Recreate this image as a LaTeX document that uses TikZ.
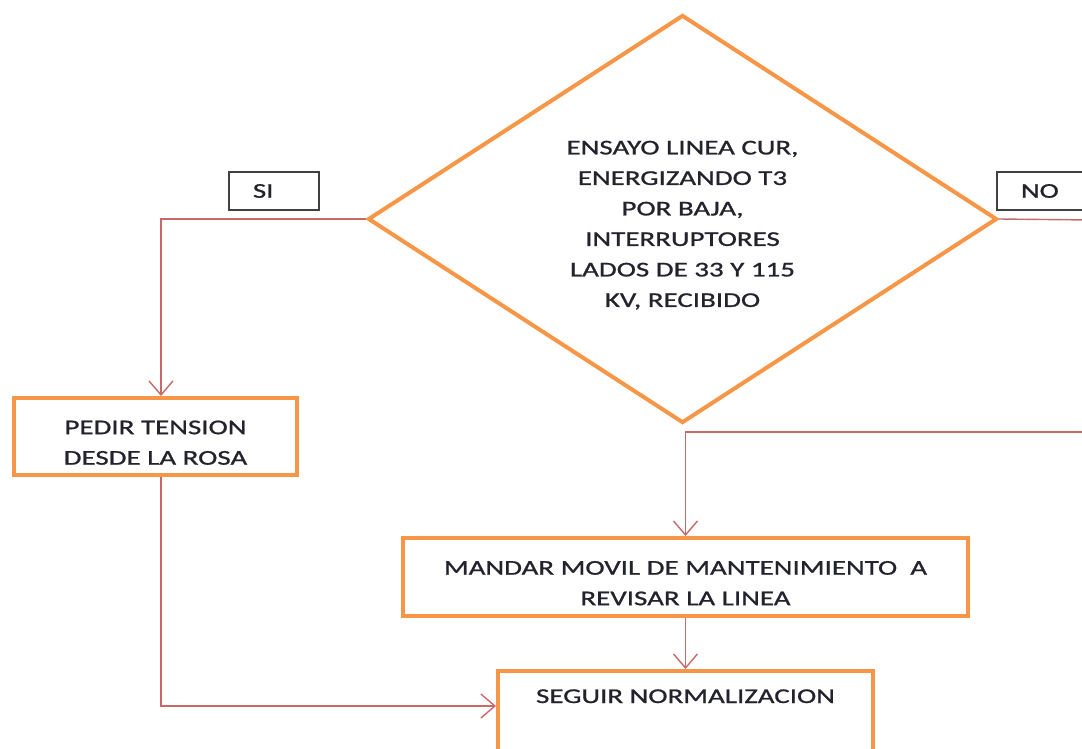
\documentclass[tikz,border=0pt]{standalone}
\usepackage{fontspec}
\setmainfont{Carlito}[FakeStretch=1.38,FakeBold=1]
\usetikzlibrary{arrows.meta,positioning,shapes.geometric}
\definecolor{boxorange}{RGB}{247,150,70}
\definecolor{linkred}{RGB}{200,105,105}
\definecolor{inkgray}{RGB}{35,35,45}
\newcommand{\flowfont}{\fontsize{21}{30.5}\selectfont}
\newcommand{\droptext}{\rule{0pt}{26pt}}
\tikzset{
  proc/.style={rectangle, draw=boxorange, line width=4pt, align=center, text=inkgray,
               font=\flowfont, inner sep=0pt},
  decide/.style={diamond, aspect=1.54, draw=boxorange, line width=4pt, align=center,
                 text=inkgray, font=\flowfont, inner sep=0pt},
  tag/.style={rectangle, draw=black!75, line width=1.8pt, align=left, text=inkgray,
              font=\flowfont, text width=42pt, inner xsep=24pt, minimum height=38pt},
  link/.style={-{Straight Barb[length=14pt,width=24pt]}, line width=1.4pt, linkred},
}
\begin{document}
\begin{tikzpicture}[x=1pt, y=-1pt]
\clip (0,0) rectangle (1082,748);
% decision and steps
\node[decide, minimum width=629pt, minimum height=408pt] (test) at (682.5,219)
  {\droptext ENSAYO LINEA CUR,\\ENERGIZANDO T3\\POR BAJA,\\INTERRUPTORES\\LADOS DE 33 Y 115\\KV, RECIBIDO};
\node[proc, minimum width=283pt, minimum height=77pt] (pedir) at (155.5,436.5)
  {\droptext PEDIR TENSION\\DESDE LA ROSA};
\node[proc, minimum width=565pt, minimum height=78pt] (mandar) at (685.5,577)
  {\droptext MANDAR MOVIL DE MANTENIMIENTO\ \ A\\REVISAR LA LINEA};
\node[proc, minimum width=375pt, minimum height=90pt] (seguir) at (685.5,716)
  {SEGUIR NORMALIZACION\\\strut};
% answer tags
\node[tag, anchor=west] (si) at (228,191) {SI};
\node[tag, anchor=west, text width=80pt] (no) at (996,191) {NO};
% connectors
\coordinate (noout) at (1090,220);
\coordinate (noback) at (1090,432);
\draw[link] (test.west) -| ([xshift=5.5pt]pedir.north);
\draw[link] ([xshift=5.5pt]pedir.south) |- ([yshift=10pt]seguir.west);
\draw[line width=1.4pt, linkred] (test.east) -- (noout);
\draw[link] (noback) -| (mandar.north);
\draw[link] (mandar.south) -- (seguir.north);
\end{tikzpicture}
\end{document}
